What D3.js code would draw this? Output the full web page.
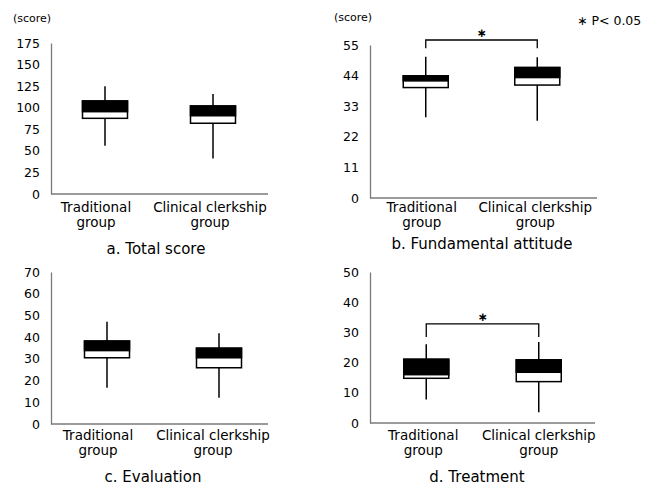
<!DOCTYPE html>
<html><head><meta charset="utf-8">
<script src="https://cdn.jsdelivr.net/npm/d3@7"></script>
<style>body{margin:0;background:#fff} svg{display:block;font-family:"DejaVu Sans",sans-serif}</style>
</head><body><svg id="chart" width="665" height="486"></svg>
<script>
// ---- data ----
const groups = ["Traditional group", "Clinical clerkship group"];
const groupLabelLines = [["Traditional", "group"], ["Clinical clerkship", "group"]];

const totalTicks = [0, 25, 50, 75, 100, 125, 150, 175];
const totalMin    = [56.0, 41.0];
const totalQ1     = [87.7, 82.0];
const totalMedian = [95.4, 90.7];
const totalQ3     = [107.8, 102.0];
const totalMax    = [125.0, 116.0];

const fundTicks = [0, 11, 22, 33, 44, 55];
const fundMin    = [29.0, 27.8];
const fundQ1     = [39.7, 40.6];
const fundMedian = [42.1, 43.3];
const fundQ3     = [43.9, 46.9];
const fundMax    = [50.8, 50.6];
const fundSig    = [56.8, 53.8]; // bracket level, bracket foot

const evalTicks = [0, 10, 20, 30, 40, 50, 60, 70];
const evalMin    = [16.7, 12.1];
const evalQ1     = [30.5, 25.9];
const evalMedian = [33.8, 30.5];
const evalQ3     = [38.2, 34.9];
const evalMax    = [47.1, 41.8];

const treatTicks = [0, 10, 20, 30, 40, 50];
const treatMin    = [7.8, 3.6];
const treatQ1     = [14.8, 13.7];
const treatMedian = [16.0, 16.8];
const treatQ3     = [21.1, 20.9];
const treatMax    = [26.1, 26.8];
const treatSig    = [32.8, 28.5];

const panelTitles = ["a. Total score", "b. Fundamental attitude", "c. Evaluation", "d. Treatment"];
const unitLabel = "(score)";
const sigNote = "\u2217 P< 0.05";

// ---- layout ----
const panels = [
  {title: panelTitles[0], ticks: totalTicks, min: totalMin, q1: totalQ1, med: totalMedian, q3: totalQ3, max: totalMax, sig: null,
   L: {ax: 51, x0: 51, x1: 267, axEnd: 268, yb: 194, yt: 43, lab: 212, labDx: [-9, -3], tx: 156, ty: 254, unit: [32, 22]}},
  {title: panelTitles[1], ticks: fundTicks, min: fundMin, q1: fundQ1, med: fundMedian, q3: fundQ3, max: fundMax, sig: fundSig,
   L: {ax: 370, x0: 370, x1: 593, axEnd: 597, yb: 198, yt: 45, lab: 212, labDx: [-4, -2], tx: 482, ty: 249, unit: [353, 21]}},
  {title: panelTitles[2], ticks: evalTicks, min: evalMin, q1: evalQ1, med: evalMedian, q3: evalQ3, max: evalMax, sig: null,
   L: {ax: 51, x0: 51, x1: 275, axEnd: 268, yb: 424, yt: 272, lab: 440, labDx: [-9, -6], tx: 153, ty: 482, unit: null}},
  {title: panelTitles[3], ticks: treatTicks, min: treatMin, q1: treatQ1, med: treatMedian, q3: treatQ3, max: treatMax, sig: treatSig,
   L: {ax: 370, x0: 370, x1: 595, axEnd: 595, yb: 423, yt: 272, lab: 440, labDx: [-3, 0], tx: 477, ty: 482, unit: null}}
];

const svg = d3.select("#chart");
const boxW = 45;
const axisColor = "#7a7a7a";

panels.forEach(p => {
  const L = p.L;
  const g = svg.append("g");
  const y = d3.scaleLinear().domain([0, d3.max(p.ticks)]).range([L.yb, L.yt]);
  const x = d3.scaleBand().domain(groups).range([L.x0, L.x1]);
  const cx = d => x(d) + x.bandwidth() / 2;

  // y axis
  const ya = g.append("g").attr("transform", `translate(${L.ax},0)`)
    .call(d3.axisLeft(y).tickValues(p.ticks).tickSize(0).tickPadding(11).tickSizeOuter(0));
  ya.select(".domain").attr("stroke", axisColor).attr("stroke-width", 1.3);
  ya.selectAll("text").attr("font-size", 12.5).attr("fill", "#000").attr("font-family", "DejaVu Sans, sans-serif");

  // x axis line
  g.append("line").attr("x1", L.ax).attr("x2", L.axEnd).attr("y1", y(0)).attr("y2", y(0))
    .attr("stroke", axisColor).attr("stroke-width", 1.3);

  // boxes
  groups.forEach((grp, i) => {
    const c = cx(grp);
    g.append("line").attr("x1", c).attr("x2", c).attr("y1", y(p.max[i])).attr("y2", y(p.min[i]))
      .attr("stroke", "#000").attr("stroke-width", 1.5);
    g.append("rect").attr("x", c - boxW / 2).attr("width", boxW)
      .attr("y", y(p.q3[i])).attr("height", y(p.q1[i]) - y(p.q3[i]))
      .attr("fill", "#fff").attr("stroke", "#000").attr("stroke-width", 1.5);
    g.append("rect").attr("x", c - boxW / 2).attr("width", boxW)
      .attr("y", y(p.q3[i])).attr("height", y(p.med[i]) - y(p.q3[i]))
      .attr("fill", "#000").attr("stroke", "#000").attr("stroke-width", 1.5);

    const t = g.append("text").attr("text-anchor", "middle").attr("font-size", 13.5).attr("fill", "#000");
    groupLabelLines[i].forEach((ln, k) => {
      t.append("tspan").attr("x", c + L.labDx[i]).attr("y", L.lab + k * 14.5).text(ln);
    });
  });

  // title
  g.append("text").attr("x", L.tx).attr("y", L.ty).attr("text-anchor", "middle")
    .attr("font-size", 15).attr("fill", "#000").text(p.title);

  if (L.unit) {
    g.append("text").attr("x", L.unit[0]).attr("y", L.unit[1]).attr("text-anchor", "middle")
      .attr("font-size", 11).attr("fill", "#000").text(unitLabel);
  }

  if (p.sig) {
    const a = cx(groups[0]), b = cx(groups[1]);
    g.append("path")
      .attr("d", `M${a},${y(p.sig[1])}V${y(p.sig[0])}H${b}V${y(p.sig[1])}`)
      .attr("fill", "none").attr("stroke", "#000").attr("stroke-width", 1.3);
    g.append("text").attr("x", (a + b) / 2).attr("y", y(p.sig[0]) - 3)
      .attr("text-anchor", "middle").attr("font-size", 12).attr("font-weight", "bold")
      .attr("fill", "#000").text("\u2217");
  }
});

svg.append("text").attr("x", 577).attr("y", 25).attr("font-size", 12.5).attr("fill", "#000").text(sigNote);
</script></body></html>
